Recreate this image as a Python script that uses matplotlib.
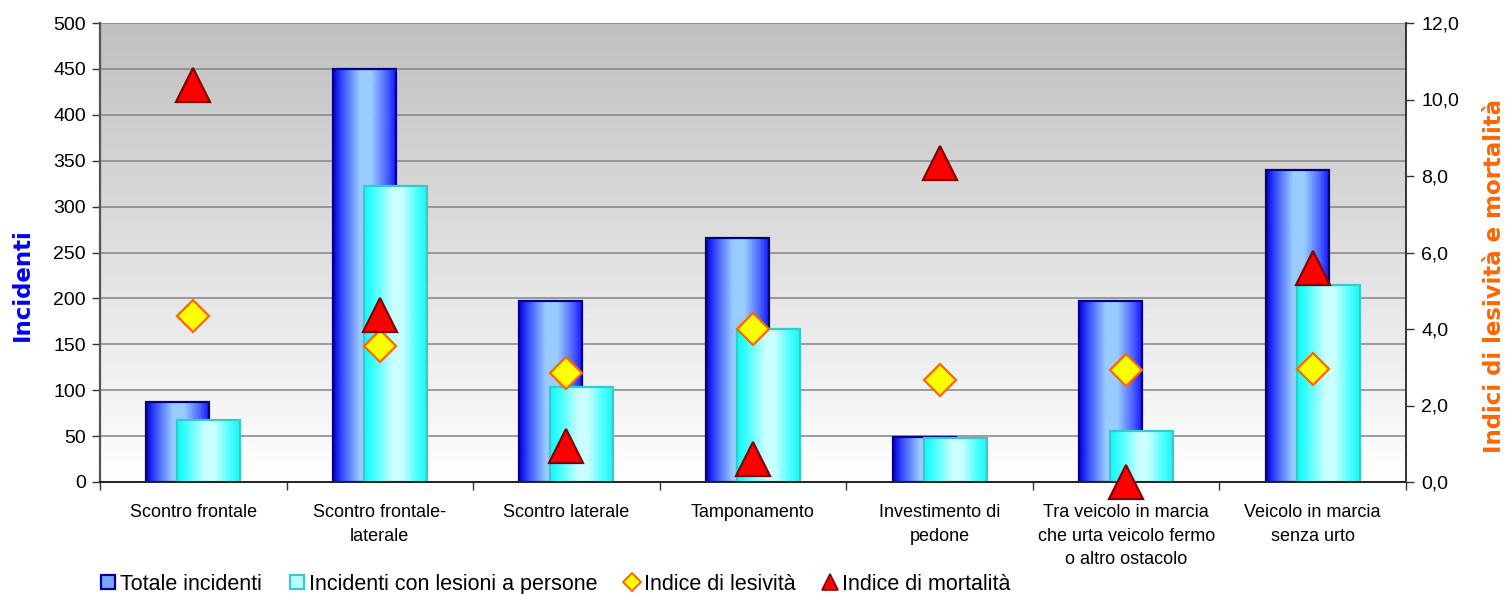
import numpy as np
import matplotlib
matplotlib.use("Agg")
import matplotlib.pyplot as plt
from matplotlib.colors import LinearSegmentedColormap
from matplotlib.lines import Line2D
from matplotlib.ticker import FuncFormatter, MultipleLocator

plt.rcParams['font.family'] = ['Liberation Sans', 'DejaVu Sans']

# dati
categorie = ["Scontro frontale", "Scontro frontale-\nlaterale", "Scontro laterale",
             "Tamponamento", "Investimento di\npedone",
             "Tra veicolo in marcia\nche urta veicolo fermo\no altro ostacolo",
             "Veicolo in marcia\nsenza urto"]
totale = [87, 450, 197, 266, 49, 197, 340]
lesioni = [67, 322, 104, 167, 48, 56, 215]
lesivita = [4.33, 3.55, 2.85, 4.01, 2.66, 2.94, 2.95]
mortalita = [10.39, 4.36, 0.95, 0.60, 8.33, 0.0, 5.59]

fig = plt.figure(figsize=(15.07, 5.94), dpi=100)
ax = fig.add_axes([100/1507, 1-482/594, 1306/1507, 459/594])
ax2 = ax.twinx()

# sfondo sfumato grigio -> bianco
grad = np.linspace(0, 1, 256).reshape(-1, 1)
bg = LinearSegmentedColormap.from_list("bg", ["#ffffff", "#c0c0c0"])
ax.imshow(grad, extent=[0, 1, 0, 1], transform=ax.transAxes, aspect='auto',
          cmap=bg, origin='lower', zorder=-1, interpolation='bilinear')

blu = LinearSegmentedColormap.from_list("blu", [(0, "#0000d8"), (0.15, "#3a50ff"), (0.42, "#99ccff"),
                                                (0.6, "#99ccff"), (0.85, "#4a60ff"), (1, "#1010ff")])
ciano = LinearSegmentedColormap.from_list("ciano", [(0, "#10f8f8"), (0.15, "#40ffff"), (0.45, "#ccffff"),
                                                    (0.6, "#c8ffff"), (0.85, "#40ffff"), (1, "#20f0f0")])
hgrad = np.linspace(0, 1, 256).reshape(1, -1)

x = np.arange(len(categorie))
w = 0.338
off = 0.083

def barre(pos, vals, cmap, edge, z):
    bars = ax.bar(pos, vals, width=w, facecolor='none', edgecolor=edge, linewidth=1.6, zorder=z + 0.1)
    for b in bars:
        x0, y0 = b.get_x(), b.get_y()
        im = ax.imshow(hgrad, extent=[x0, x0 + b.get_width(), y0, y0 + b.get_height()],
                       aspect='auto', cmap=cmap, zorder=z, interpolation='bilinear')
        im.set_clip_path(b)
    return bars

barre(x - off, totale, blu, "#000080", 2)
barre(x + off, lesioni, ciano, "#33cccc", 2.2)

ax2.plot(x, lesivita, linestyle='none', marker='D', markersize=16.5, markerfacecolor='#ffff00',
         markeredgecolor='#ff6600', markeredgewidth=1.6, clip_on=False, zorder=3)
ax2.plot(x, mortalita, linestyle='none', marker='^', markersize=24, markerfacecolor='#ff0000',
         markeredgecolor='#800000', markeredgewidth=1.6, clip_on=False, zorder=4)

ax.set_xlim(-0.5, len(categorie) - 0.5)
ax.set_ylim(0, 500)
ax2.set_ylim(0, 12)
ax.yaxis.set_major_locator(MultipleLocator(50))
ax2.yaxis.set_major_locator(MultipleLocator(2))
ax2.yaxis.set_major_formatter(FuncFormatter(lambda v, p: f"{v:.1f}".replace('.', ',')))

ax.set_xticks(np.arange(-0.5, len(categorie), 1.0))
ax.set_xticklabels([])
ax.set_xticks(x, minor=True)
ax.set_xticklabels(categorie, minor=True, fontsize=13, linespacing=1.5, va='top')
ax.tick_params(axis='x', which='minor', length=0, pad=16)
ax.tick_params(axis='x', which='major', length=6, width=1, color='#333333', direction='out')
ax.tick_params(axis='y', length=6, width=1, color='#333333', labelsize=14, pad=4)
ax2.tick_params(axis='y', length=6, width=1, color='#333333', labelsize=14, pad=5)

ax.grid(axis='y', color='#8c8c8c', linewidth=1.2)
ax.set_axisbelow(True)
for s in ['top', 'right']:
    ax.spines[s].set_visible(False)
for s in ['top', 'left', 'bottom']:
    ax2.spines[s].set_visible(False)
ax.spines['left'].set_color('#555555')
ax.spines['left'].set_linewidth(1.6)
ax.spines['bottom'].set_color('#222222')
ax.spines['bottom'].set_linewidth(1.4)
ax2.spines['right'].set_color('#333333')
ax2.spines['right'].set_linewidth(1.4)

ax.set_ylabel("Incidenti", family='DejaVu Sans', fontweight='bold', fontsize=16.5,
              color='#0000ff', ha='center', va='center')
ax.yaxis.set_label_coords(-0.0597, 0.429)
ax2.set_ylabel("Indici di lesività e mortalità", family='DejaVu Sans', fontweight='bold',
               fontsize=16.5, color='#ff6600', ha='center', va='center')
ax2.yaxis.set_label_coords(1.068, 0.449)

handles = [
    Line2D([], [], linestyle='none', marker='s', markersize=10, markerfacecolor='#7aa8ff',
           markeredgecolor='#0000a0', markeredgewidth=1.6),
    Line2D([], [], linestyle='none', marker='s', markersize=10, markerfacecolor='#b8ffff',
           markeredgecolor='#33cccc', markeredgewidth=1.6),
    Line2D([], [], linestyle='none', marker='D', markersize=9, markerfacecolor='#ffff00',
           markeredgecolor='#ff6600', markeredgewidth=1.4),
    Line2D([], [], linestyle='none', marker='^', markersize=11, markerfacecolor='#ff0000',
           markeredgecolor='#800000', markeredgewidth=1.2),
]
labels = ["Totale incidenti", "Incidenti con lesioni a persone", "Indice di lesività",
          "Indice di mortalità"]
fig.legend(handles, labels, loc='center left', bbox_to_anchor=(0.066, 0.016), ncol=4,
           frameon=False, fontsize=15.5, handlelength=0.8, handletextpad=0.15, columnspacing=1.22,
           borderaxespad=0, borderpad=0)

fig.savefig("out.png", dpi=100)
